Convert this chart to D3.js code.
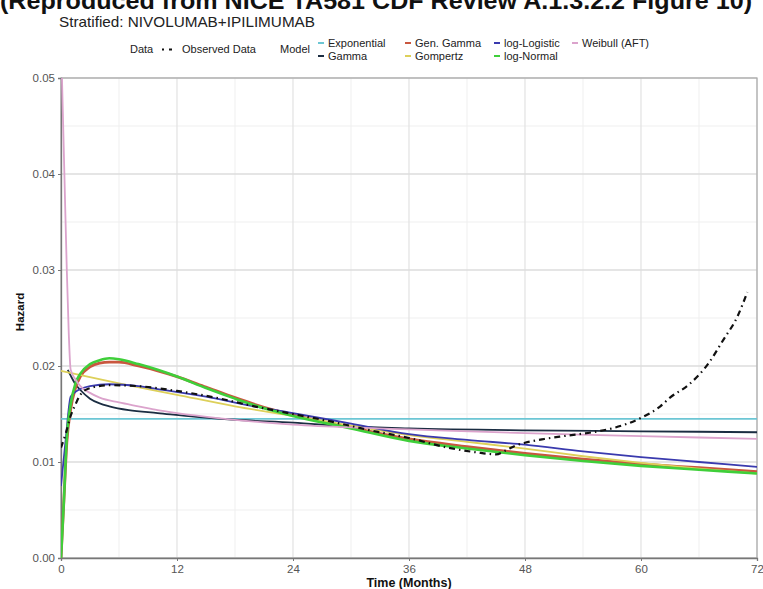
<!DOCTYPE html>
<html>
<head>
<meta charset="utf-8">
<script src="https://cdn.jsdelivr.net/npm/d3@7"></script>
<style>
  body { margin: 0; background: #fff; }
  text { font-family: "Liberation Sans", Arial, sans-serif; }
</style>
</head>
<body>
<div id="chart"></div>
<script>
// hazard curves (time in months)
const obsTime = [0, 0.5, 1, 1.5, 2, 3, 5, 8, 12, 16, 20, 24, 28, 32, 36, 40, 43, 45, 46, 47, 48, 50, 52, 55, 57, 60, 62, 63, 65, 67, 68.5, 70, 71];
const obsHaz  = [0.0115, 0.0130, 0.0148, 0.0160, 0.0170, 0.0177, 0.0180, 0.0179, 0.0174, 0.0167, 0.0158, 0.0150, 0.0142, 0.0133, 0.0125, 0.0115, 0.0110, 0.0108, 0.0112, 0.0117, 0.0120, 0.0124, 0.0127, 0.0131, 0.0135, 0.0146, 0.0158, 0.0167, 0.0181, 0.0203, 0.0227, 0.0252, 0.0277];

const expTime = [0, 72];
const expHaz  = [0.0145, 0.0145];

const gamTime = [0.7, 1, 1.5, 2, 3, 4, 5, 7, 10, 14, 18, 24, 30, 36, 48, 60, 72];
const gamHaz  = [0.0196, 0.0190, 0.0181, 0.0175, 0.0166, 0.0161, 0.0158, 0.0154, 0.0151, 0.0147, 0.0144, 0.0141, 0.0137, 0.0135, 0.0133, 0.0132, 0.0131];

const ggTime = [0, 0.3, 0.6, 1, 1.5, 2, 3, 4, 5, 6, 8, 10, 12, 15, 18, 21, 24, 30, 36, 42, 48, 54, 60, 66, 72];
const ggHaz  = [0, 0.0060, 0.0120, 0.0155, 0.0177, 0.0189, 0.0199, 0.0203, 0.0204, 0.0204, 0.0200, 0.0195, 0.0189, 0.0178, 0.0167, 0.0157, 0.0149, 0.0136, 0.0124, 0.0116, 0.0109, 0.0103, 0.0098, 0.0094, 0.0090];

const gompTime = [0, 6, 12, 18, 24, 30, 36, 42, 48, 54, 60, 66, 72];
const gompHaz  = [0.0195, 0.0182, 0.0170, 0.0158, 0.0148, 0.0138, 0.0128, 0.0121, 0.0114, 0.0106, 0.0099, 0.0093, 0.0088];

const llTime = [0, 0.5, 1, 1.5, 2, 3, 5, 8, 10, 15, 20, 24, 30, 36, 42, 48, 54, 60, 66, 72];
const llHaz  = [0.0075, 0.0125, 0.0168, 0.0173, 0.0176, 0.0179, 0.0181, 0.0179, 0.0176, 0.0168, 0.0158, 0.0151, 0.0140, 0.0129, 0.0123, 0.0118, 0.0111, 0.0105, 0.0100, 0.0095];

const lnTime = [0, 0.3, 0.6, 1, 1.5, 2, 3, 4, 5, 6, 8, 10, 12, 15, 18, 21, 24, 30, 36, 42, 48, 54, 60, 66, 72];
const lnHaz  = [0, 0.0060, 0.0125, 0.0160, 0.0182, 0.0192, 0.0202, 0.0206, 0.0208, 0.0207, 0.0202, 0.0196, 0.0189, 0.0177, 0.0166, 0.0156, 0.0148, 0.0135, 0.0122, 0.0114, 0.0107, 0.0101, 0.0096, 0.0092, 0.0088];

const weiTime = [0.05, 0.35, 0.6, 0.8, 1, 1.5, 2, 3, 4, 6, 8, 10, 12, 16, 20, 24, 30, 36, 48, 60, 72];
const weiHaz  = [0.0520, 0.0400, 0.0300, 0.0235, 0.0196, 0.0186, 0.0179, 0.0172, 0.0167, 0.0162, 0.0158, 0.0154, 0.0151, 0.0146, 0.0142, 0.0139, 0.0136, 0.0134, 0.0130, 0.0127, 0.0124];

const modelNames = ["Exponential", "Gamma", "Gen. Gamma", "Gompertz", "log-Logistic", "log-Normal", "Weibull (AFT)"];
const modelColors = ["#6cc6d4", "#1b2d42", "#c9573f", "#ddd05a", "#3a3aae", "#3fcf3a", "#dba3cc"];
const modelTimes = [expTime, gamTime, ggTime, gompTime, llTime, lnTime, weiTime];
const modelHaz = [expHaz, gamHaz, ggHaz, gompHaz, llHaz, lnHaz, weiHaz];

const xTicks = [0, 12, 24, 36, 48, 60, 72];
const yTicks = [0, 0.01, 0.02, 0.03, 0.04, 0.05];

const W = 763, H = 589;
const pL = 61, pR = 757, pT = 78, pB = 558;

const svg = d3.select("#chart").append("svg").attr("width", W).attr("height", H);

const x = d3.scaleLinear().domain([0, 72]).range([pL, pR]);
const y = d3.scaleLinear().domain([0, 0.05]).range([pB, pT]);

// titles (the big one is cut by the top edge, as in the source)
svg.append("text")
  .attr("x", 0).attr("y", 9)
  .attr("font-size", 24).attr("font-weight", "bold").attr("fill", "#111")
  .attr("textLength", 752).attr("lengthAdjust", "spacingAndGlyphs")
  .text("(Reproduced from NICE TA581 CDF Review A.1.3.2.2 Figure 10)");
svg.append("text")
  .attr("x", 59).attr("y", 26.5)
  .attr("font-size", 14.5).attr("fill", "#222")
  .attr("textLength", 256).attr("lengthAdjust", "spacingAndGlyphs")
  .text("Stratified: NIVOLUMAB+IPILIMUMAB");

// grid
const xMinor = d3.range(6, 72, 12);
const yMinor = d3.range(0.005, 0.05, 0.01);
const grid = svg.append("g");
grid.selectAll(".xm").data(xMinor).join("line")
  .attr("x1", d => x(d)).attr("x2", d => x(d)).attr("y1", pT).attr("y2", pB)
  .attr("stroke", "#efefef").attr("stroke-width", 1);
grid.selectAll(".ym").data(yMinor).join("line")
  .attr("x1", pL).attr("x2", pR).attr("y1", d => y(d)).attr("y2", d => y(d))
  .attr("stroke", "#efefef").attr("stroke-width", 1);
grid.selectAll(".xg").data(xTicks).join("line")
  .attr("x1", d => x(d)).attr("x2", d => x(d)).attr("y1", pT).attr("y2", pB)
  .attr("stroke", "#e2e2e2").attr("stroke-width", 1.2);
grid.selectAll(".yg").data(yTicks).join("line")
  .attr("x1", pL).attr("x2", pR).attr("y1", d => y(d)).attr("y2", d => y(d))
  .attr("stroke", "#dcdcdc").attr("stroke-width", 1.4);

svg.append("rect")
  .attr("x", pL).attr("y", pT).attr("width", pR - pL).attr("height", pB - pT)
  .attr("fill", "none").attr("stroke", "#a8a8a8").attr("stroke-width", 1.2);

// axes
const xAxis = svg.append("g").attr("transform", `translate(0,${pB})`)
  .call(d3.axisBottom(x).tickValues(xTicks).tickSize(3).tickPadding(4).tickFormat(d3.format("d")));
const yAxis = svg.append("g").attr("transform", `translate(${pL},0)`)
  .call(d3.axisLeft(y).tickValues(yTicks).tickSize(3).tickPadding(3).tickFormat(d3.format(".2f")));
[xAxis, yAxis].forEach(a => {
  a.select(".domain").attr("stroke", "#777").attr("stroke-width", 1.3);
  a.selectAll(".tick line").attr("stroke", "#777");
  a.selectAll(".tick text").attr("fill", "#555").attr("font-size", 11.5)
    .attr("font-family", "'Liberation Sans', Arial, sans-serif");
});

svg.append("text")
  .attr("x", (pL + pR) / 2).attr("y", 587).attr("text-anchor", "middle")
  .attr("font-size", 12.5).attr("font-weight", "bold").attr("fill", "#111")
  .text("Time (Months)");
svg.append("text")
  .attr("transform", `translate(24,${(pT + pB) / 2 - 6}) rotate(-90)`)
  .attr("text-anchor", "middle")
  .attr("font-size", 11.5).attr("font-weight", "bold").attr("fill", "#111")
  .text("Hazard");

// curves
svg.append("clipPath").attr("id", "clip").append("rect")
  .attr("x", pL).attr("y", pT).attr("width", pR - pL).attr("height", pB - pT);
const plot = svg.append("g").attr("clip-path", "url(#clip)");

const line = d3.line().x(d => x(d[0])).y(d => y(d[1])).curve(d3.curveMonotoneX);

modelNames.forEach((name, i) => {
  const pts = modelTimes[i].map((t, j) => [t, modelHaz[i][j]]);
  plot.append("path")
    .datum(pts)
    .attr("d", line)
    .attr("fill", "none")
    .attr("stroke", modelColors[i])
    .attr("stroke-width", name === "log-Normal" ? 2.6 : (name === "Gen. Gamma" ? 2.8 : 1.8));
});

plot.append("path")
  .datum(obsTime.map((t, j) => [t, obsHaz[j]]))
  .attr("d", line)
  .attr("fill", "none")
  .attr("stroke", "#111")
  .attr("stroke-width", 2.2)
  .attr("stroke-dasharray", "6,4,1.5,4");

// legend
const lg = svg.append("g").attr("font-size", 11).attr("fill", "#222");
lg.append("text").attr("x", 130).attr("y", 53).text("Data");
lg.append("line").attr("x1", 162).attr("x2", 175).attr("y1", 49.5).attr("y2", 49.5)
  .attr("stroke", "#111").attr("stroke-width", 2.2).attr("stroke-dasharray", "2,5,3,5");
lg.append("text").attr("x", 182).attr("y", 53).text("Observed Data");
lg.append("text").attr("x", 280).attr("y", 53).text("Model");

const colX = [318, 405, 494, 572];
modelNames.forEach((name, i) => {
  const col = Math.floor(i / 2), row = i % 2;
  const kx = colX[col], ky = row === 0 ? 43 : 56;
  lg.append("line")
    .attr("x1", kx).attr("x2", kx + 6).attr("y1", ky).attr("y2", ky)
    .attr("stroke", modelColors[i]).attr("stroke-width", 2);
  lg.append("text").attr("x", kx + 10).attr("y", ky + 4).text(name);
});
</script>
</body>
</html>
